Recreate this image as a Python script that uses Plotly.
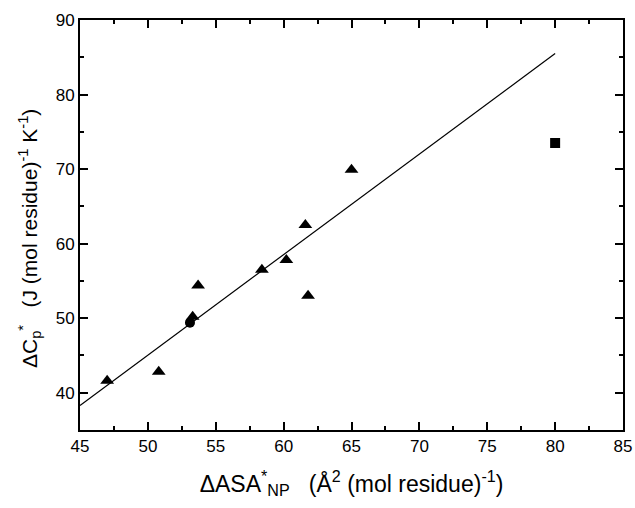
import plotly.graph_objects as go

# Data
tri_x = [47.0, 50.8, 53.3, 53.7, 58.4, 60.2, 61.6, 61.8, 65.0]
tri_y = [41.6, 42.8, 50.2, 54.4, 56.5, 57.8, 62.5, 53.0, 69.9]
circ_x = [53.1]
circ_y = [49.4]
sq_x = [80.0]
sq_y = [73.5]
fit_x = [45.0, 80.0]
fit_y = [38.3, 85.5]

fig = go.Figure()
fig.add_trace(go.Scatter(x=fit_x, y=fit_y, mode="lines",
                         line=dict(color="black", width=1.2), showlegend=False))
fig.add_trace(go.Scatter(x=tri_x, y=tri_y, mode="markers",
                         marker=dict(symbol="triangle-up", size=12, color="black"), showlegend=False))
fig.add_trace(go.Scatter(x=circ_x, y=circ_y, mode="markers",
                         marker=dict(symbol="circle", size=10, color="black"), showlegend=False))
fig.add_trace(go.Scatter(x=sq_x, y=sq_y, mode="markers",
                         marker=dict(symbol="square", size=10, color="black"), showlegend=False))

font = "Liberation Sans, Arial, sans-serif"
axis_common = dict(
    showgrid=False, zeroline=False, showline=True, linecolor="black", linewidth=2,
    mirror="ticks", ticks="inside", ticklen=8, tickwidth=1.5, tickcolor="black",
    tickfont=dict(family=font, size=17, color="black"),
)

fig.update_xaxes(range=[45, 85], dtick=5, tick0=45,
                 minor=dict(ticks="inside", ticklen=4, tickwidth=1.5, tickcolor="black", dtick=2.5),
                 title=dict(text="ΔASA<sup>*</sup><sub>NP</sub>   (Å<sup>2</sup> (mol residue)<sup>-1</sup>)",
                            font=dict(family=font, size=23, color="black"), standoff=20),
                 **axis_common)
fig.update_yaxes(range=[35, 90], dtick=10, tick0=40,
                 minor=dict(ticks="inside", ticklen=4, tickwidth=1.5, tickcolor="black", dtick=5),
                 **axis_common)

fig.add_annotation(
    text="ΔC<sub>p</sub><sup>*</sup>   (J (mol residue)<sup>-1</sup> K<sup>-1</sup>)",
    xref="paper", yref="paper", x=-0.094, y=0.468,
    xanchor="center", yanchor="middle", textangle=-90, showarrow=False,
    font=dict(family=font, size=21, color="black"),
)

fig.update_layout(
    width=635, height=508,
    margin=dict(l=80, r=12, t=20, b=78, autoexpand=False),
    plot_bgcolor="white", paper_bgcolor="white",
)

fig.write_html("out.html")
